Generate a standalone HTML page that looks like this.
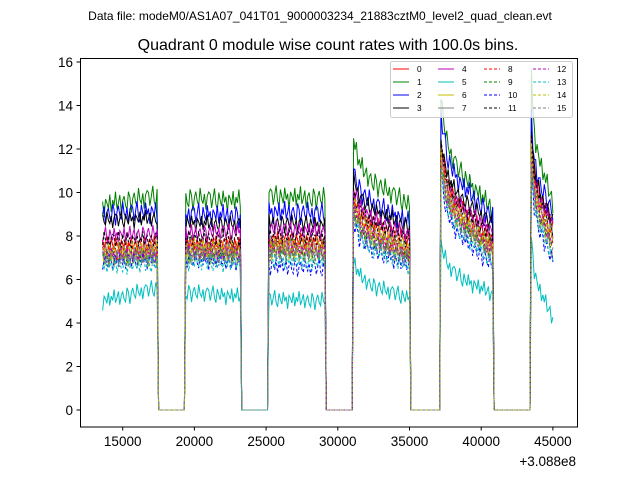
<!DOCTYPE html>
<html><head><meta charset="utf-8"><style>
body{margin:0;background:#fff;}
svg text{font-family:"Liberation Sans","DejaVu Sans",sans-serif;}
</style></head><body>
<svg id="chart" width="640" height="480" xmlns="http://www.w3.org/2000/svg">
<rect width="640" height="480" fill="#fff"/>
<text x="320" y="20" font-size="12" text-anchor="middle">Data file: modeM0/AS1A07_041T01_9000003234_21883cztM0_level2_quad_clean.evt</text>
<text x="328" y="50" font-size="16" text-anchor="middle">Quadrant 0 module wise count rates with 100.0s bins.</text>
<g id="plot"></g>
<rect x="80.5" y="58.5" width="497" height="368.5" fill="none" stroke="#000" stroke-width="1"/>
<g id="axes"></g>
<text x="576" y="466" font-size="13.5" text-anchor="end">+3.088e8</text>
<g id="legend"></g>
</svg>
<script>
// ---- data ----
const series = ["0","1","2","3","4","5","6","7","8","9","10","11","12","13","14","15"];
const colors = ["#ff0000","#008000","#0000ff","#000000","#bf00bf","#00bfbf","#bfbf00","#808080","#ff0000","#008000","#0000ff","#000000","#bf00bf","#00bfbf","#bfbf00","#808080"];
const segStarts = [13600,19400,25200,31100,37200,43500];
const segEnds   = [17400,23200,29100,35000,40800,45000];
// per-series [start,end] level per segment
const segLevels = [
 [[7.6,7.6],[7.6,7.6],[7.8,7.8],[9.8,7.8],[12.2,7.8],[12.5,8.5]],
 [[9.4,9.8],[9.7,9.6],[9.8,9.7],[12.4,9.4],[14.2,9.2],[15.2,9.5]],
 [[9.0,9.1],[9.0,8.9],[9.1,9.0],[11.0,8.6],[13.5,8.8],[13.3,9.0]],
 [[8.7,8.8],[8.6,8.5],[8.6,8.5],[10.6,8.4],[12.3,8.5],[12.8,8.6]],
 [[8.0,8.1],[8.1,8.2],[8.3,8.2],[10.2,8.0],[11.6,8.2],[12.0,8.5]],
 [[5.0,5.6],[5.4,5.2],[5.1,5.0],[6.8,5.1],[7.6,5.3],[8.0,4.2]],
 [[7.0,7.0],[7.1,7.1],[7.3,7.2],[9.2,7.0],[11.2,7.3],[11.6,7.6]],
 [[7.2,7.3],[7.4,7.3],[7.6,7.4],[9.6,7.3],[11.4,7.6],[12.0,8.0]],
 [[7.3,7.3],[7.5,7.4],[7.6,7.5],[9.6,7.2],[11.8,7.4],[12.3,7.8]],
 [[7.0,7.1],[7.2,7.1],[7.3,7.1],[9.2,7.0],[11.2,7.2],[11.5,7.5]],
 [[6.8,6.9],[6.9,6.8],[6.6,6.5],[8.6,6.6],[10.6,6.6],[11.0,6.8]],
 [[7.8,7.8],[7.9,7.8],[8.0,7.9],[10.0,7.8],[12.2,7.9],[12.5,8.3]],
 [[7.1,7.2],[7.3,7.2],[7.4,7.3],[9.4,7.1],[11.2,7.3],[11.8,7.6]],
 [[6.6,6.7],[6.8,6.7],[6.9,6.8],[8.8,6.6],[10.8,6.8],[11.2,7.0]],
 [[7.3,7.4],[7.5,7.4],[7.6,7.5],[9.6,7.4],[11.6,7.5],[12.0,7.9]],
 [[6.9,7.0],[7.1,7.0],[7.2,7.1],[9.0,6.9],[11.0,7.1],[11.3,7.2]]
];
const decayShape = [1,0.62,0.47,0.37,0.3,0.24,0.18,0.12,0.06,0];
const noise = [0.3,-0.4,0.1,0.6,-0.2,-0.5,0.4,0.0,-0.3,0.5,-0.1,0.2,-0.6,0.3,0.1,-0.2,0.5,-0.4,0.2,-0.1,0.6,-0.3,0.0,0.4,-0.5,0.1,0.3,-0.2,-0.4,0.5,0.2,-0.6,0.1,0.4,-0.1,-0.3,0.6,0.0,-0.2,0.3,-0.5,0.2,0.4];
const xTicks = [15000,20000,25000,30000,35000,40000,45000];
const yTicks = [0,2,4,6,8,10,12,14,16];

// ---- axes ----
const X = v => 122.7 + (v-15000)*0.01434;
const Y = v => 410 - v*21.75;
const NS = "http://www.w3.org/2000/svg";
function mk(tag, attrs){const e=document.createElementNS(NS,tag);for(const k in attrs)e.setAttribute(k,attrs[k]);return e;}

function value(s,t){
  for(let g=0;g<segStarts.length;g++){
    if(t>=segStarts[g]&&t<=segEnds[g]){
      const [a,b]=segLevels[s][g];
      const f=(t-segStarts[g])/(segEnds[g]-segStarts[g]);
      let base;
      if(g>=3){const p=f*(decayShape.length-1),i=Math.floor(p),r=p-i;
        const sh=decayShape[i]+(decayShape[Math.min(i+1,decayShape.length-1)]-decayShape[i])*r;
        base=b+(a-b)*sh;}
      else base=a+(b-a)*f;
      const idx=Math.round((t-13600)/100);
      const amp=(s===1||s===2)?0.9:0.7;
      return base+amp*noise[(idx+s*11)%noise.length];
    }
  }
  return 0;
}
const plot=document.getElementById('plot');
for(let s=0;s<series.length;s++){
  let d="";
  for(let t=13600;t<=45000;t+=100){d+=(d?"L":"M")+X(t).toFixed(1)+","+Y(value(s,t)).toFixed(1);}
  const p=mk('path',{d:d,fill:'none',stroke:colors[s],'stroke-width':1});
  if(s>=8)p.setAttribute('stroke-dasharray','3,2');
  
  
  plot.appendChild(p);
}
const axes=document.getElementById('axes');
xTicks.forEach(v=>{
  const l=mk('line',{x1:X(v),x2:X(v),y1:427,y2:430.5,stroke:'#000'});
  
  
  axes.appendChild(l);
  const t=mk('text',{x:X(v),y:446,'font-size':13.5,'text-anchor':'middle'});
  t.textContent=v;
  
  
  axes.appendChild(t);
});
yTicks.forEach(v=>{
  const l=mk('line',{x1:76.5,x2:80,y1:Y(v),y2:Y(v),stroke:'#000'});
  
  
  axes.appendChild(l);
  const t=mk('text',{x:73,y:Y(v)+5,'font-size':13.5,'text-anchor':'end'});
  t.textContent=v;
  
  
  axes.appendChild(t);
});
// ---- legend ----
const lg=document.getElementById('legend');
const box=mk('rect',{x:390.5,y:61.5,width:182,height:56,rx:2,fill:'#fff','fill-opacity':0.8,stroke:'#ccc'});


lg.appendChild(box);
const colX=[393,438,484,533];
for(let s=0;s<16;s++){
  const c=Math.floor(s/4),r=s%4,x=colX[c],y=69+r*13;
  const l=mk('line',{x1:x,x2:x+16,y1:y,y2:y,stroke:colors[s],'stroke-width':1});
  if(s>=8)l.setAttribute('stroke-dasharray','3,2');
  
  
  lg.appendChild(l);
  const t=mk('text',{x:x+24,y:y+3,'font-size':8.3});
  t.textContent=series[s];
  
  
  lg.appendChild(t);
}
</script>
</body></html>
